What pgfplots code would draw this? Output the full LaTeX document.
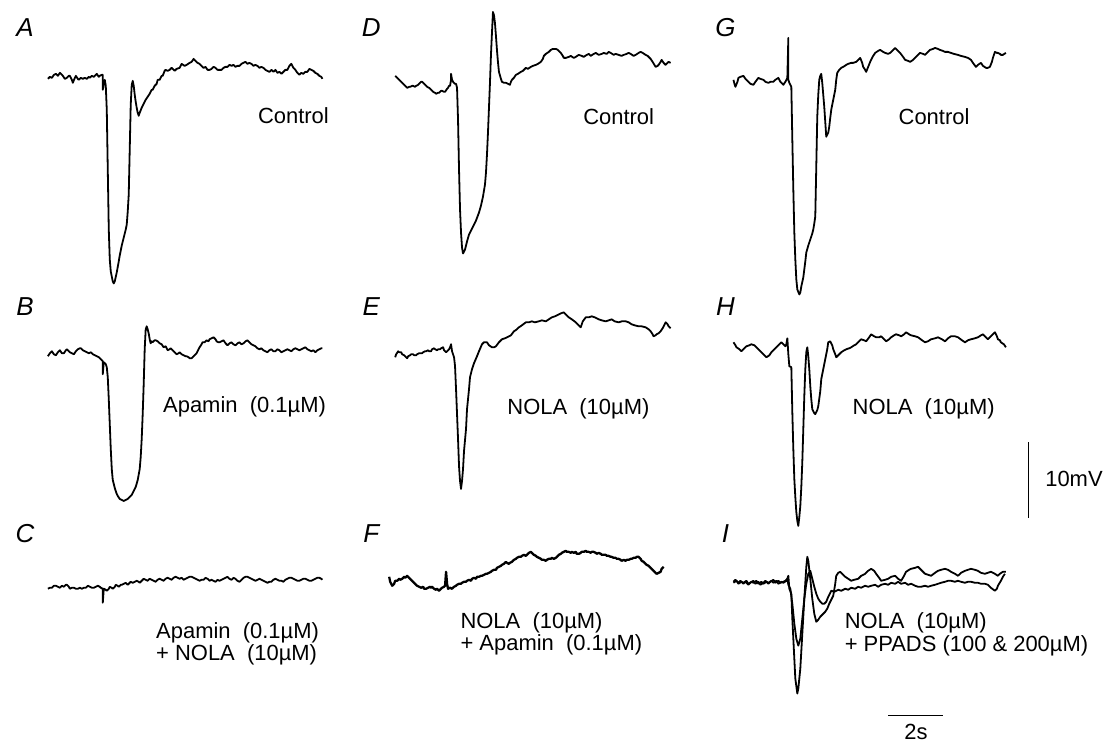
\documentclass[border=0pt]{standalone}
\usepackage{fontspec}
\setmainfont{Liberation Sans}
\usepackage{pgfplots}
\pgfplotsset{compat=1.18}
\tikzset{lab/.style={font=\fontsize{22}{24}\selectfont},
  let/.style={font=\fontsize{26}{28}\selectfont\itshape}}
\begin{document}
\begin{tikzpicture}
\begin{axis}[x=1pt,y=1pt,y dir=reverse,xmin=0,xmax=1106,ymin=0,ymax=748,hide axis,clip=false,
  every axis plot/.append style={line width=1.8pt},
  every axis plot post/.append style={black,solid,line join=round,mark=none}]
\path[draw=none] (axis cs:0,0) rectangle (axis cs:1106,748);
% Panel A
\addplot coordinates {(48,79)(50,77)(52,78)(54,75)(56,74)(58,76)(60,73)(62,75)(63,76)(65,79)(67,78)(69,76)(70,76)(72,80)(73,83)(75,78)(76,76)(78,79)(79,80)(81,78)(83,79)(85,78)(87,79)(89,77)(90,78)(92,76)(94,77)(96,75)(97,74)(99,77)(100,76)(102,75)(103,75)(103,90)(104,84)(105,80)(106,86)(107,110)(108,170)(109,230)(110,260)(111,272)(113,282)(114,284)(115,282)(117,273)(119,262)(120,256)(122,246)(124,238)(126,230)(127,225)(128,212)(129,195)(130,150)(131,105)(132,85)(133,81)(134,86)(135,95)(136,102)(137,108)(138,113)(139,116)(140,113)(142,108)(144,104)(146,100)(148,97)(150,94)(152,90)(153,90)(155,86)(157,84)(158,80)(160,80)(162,76)(163,76)(165,71)(166,70)(168,71)(170,70)(172,68)(175,71)(177,69)(180,68)(182,64)(185,66)(187,65)(190,63)(192,62)(194,59)(196,61)(198,63)(200,64)(202,66)(204,68)(206,67)(208,70)(210,70)(212,69)(214,67)(216,68)(218,70)(220,70)(222,70)(224,68)(226,67)(228,67)(230,65)(232,66)(234,65)(236,67)(238,66)(240,66)(242,64)(244,63)(246,62)(248,64)(250,63)(252,64)(254,66)(256,65)(258,66)(260,68)(262,67)(264,68)(266,70)(268,71)(270,72)(272,70)(274,72)(276,70)(278,73)(280,72)(282,74)(284,72)(286,70)(288,70)(290,66)(292,64)(294,68)(296,70)(298,73)(300,75)(302,73)(304,74)(306,72)(308,72)(310,69)(312,70)(314,71)(316,73)(318,74)(320,76)(322,77)(323,79)};
% Panel B
\addplot coordinates {(48,357)(50,354)(52,352)(54,355)(56,356)(58,353)(60,351)(62,354)(64,354)(66,351)(67,350)(69,352)(70,353)(72,354)(74,355)(76,352)(78,350)(80,349)(81,349)(83,351)(85,352)(87,353)(89,354)(91,353)(93,355)(95,356)(97,357)(99,358)(101,360)(103,362)(103,375)(104,363)(106,365)(107,368)(108,378)(109,400)(110,425)(111,450)(112,470)(113,481)(115,489)(117,495)(118,497)(120,500)(122,501)(124,502)(126,501)(128,500)(130,498)(132,496)(134,492)(136,488)(138,481)(140,470)(141,458)(142,440)(143,415)(144,385)(145,350)(146,330)(147,327)(148,330)(149,334)(150,340)(151,344)(152,342)(153,343)(155,341)(156,341)(158,342)(160,344)(162,345)(164,348)(166,347)(168,351)(170,350)(171,349)(173,351)(174,352)(176,354)(177,355)(179,354)(180,353)(182,355)(184,356)(186,357)(187,357)(189,358)(190,359)(192,359)(193,358)(195,356)(197,354)(199,350)(200,348)(202,345)(203,343)(205,343)(207,341)(209,342)(210,340)(212,339)(214,338)(216,340)(217,342)(219,343)(220,343)(222,342)(224,341)(226,344)(228,346)(230,344)(232,343)(234,345)(236,346)(238,344)(240,343)(242,345)(244,344)(246,342)(248,341)(250,343)(252,345)(254,346)(256,347)(258,349)(260,350)(262,349)(264,351)(266,352)(268,353)(270,351)(272,350)(274,352)(276,352)(278,350)(280,351)(282,353)(284,352)(286,351)(288,350)(290,351)(292,352)(294,350)(296,349)(298,350)(300,351)(302,350)(304,349)(306,348)(308,350)(310,351)(312,352)(314,351)(316,353)(318,351)(320,350)(322,349)(323,349)};
% Panel C
\addplot coordinates {(48,590)(50,589)(52,589)(54,587)(56,587)(58,588)(60,589)(62,587)(64,588)(66,586)(67,586)(69,588)(70,590)(72,589)(74,589)(76,590)(78,590)(80,589)(82,590)(84,589)(86,589)(88,587)(90,588)(92,589)(94,589)(96,588)(98,587)(100,588)(101,589)(103,590)(103,604)(104,590)(106,591)(107,592)(109,590)(110,588)(112,589)(113,590)(115,588)(116,586)(118,587)(119,588)(121,586)(122,586)(124,585)(126,584)(128,586)(129,585)(131,583)(133,584)(135,583)(137,582)(139,583)(140,584)(142,582)(144,580)(146,581)(148,582)(150,580)(152,581)(154,582)(156,583)(158,581)(160,580)(162,581)(164,582)(166,580)(168,579)(170,580)(172,581)(174,579)(176,578)(178,579)(180,580)(182,579)(184,581)(186,580)(188,579)(190,578)(192,578)(194,579)(196,580)(198,581)(200,582)(202,581)(204,581)(206,579)(208,580)(210,582)(212,581)(214,582)(216,583)(218,581)(220,582)(222,581)(224,580)(226,579)(228,578)(230,580)(232,581)(234,579)(236,580)(238,582)(240,583)(242,581)(244,579)(246,578)(248,578)(250,579)(252,580)(254,581)(256,582)(258,581)(260,580)(262,581)(264,582)(266,583)(268,584)(270,583)(272,583)(274,581)(276,580)(278,581)(280,582)(282,582)(284,583)(286,581)(288,580)(290,579)(292,579)(294,580)(296,581)(298,582)(300,582)(302,581)(304,580)(306,580)(308,581)(310,582)(312,582)(314,581)(316,580)(318,579)(320,579)(322,580)(323,581)};
% Panel D
\addplot coordinates {(396,76)(398,78)(399,79)(401,81)(402,82)(404,84)(405,85)(407,87)(408,88)(410,87)(411,87)(413,86)(414,86)(416,87)(417,86)(419,85)(420,84)(422,82)(423,82)(424,83)(425,84)(427,86)(428,87)(430,88)(431,89)(433,91)(434,92)(436,93)(437,94)(439,93)(440,93)(442,91)(443,91)(445,92)(446,92)(448,89)(449,88)(450,86)(451,86)(452,80)(452,74)(453,80)(454,82)(456,84)(457,84)(458,88)(459,120)(460,170)(461,210)(462,233)(463,248)(464,254)(466,250)(468,242)(470,235)(472,231)(475,225)(477,221)(480,213)(482,206)(484,197)(486,185)(487,173)(488,155)(489,133)(490,108)(491,83)(492,55)(493,33)(494,12)(495,15)(496,23)(497,36)(498,50)(499,62)(500,72)(502,79)(503,82)(505,83)(507,83)(509,84)(511,85)(512,82)(513,80)(515,78)(517,75)(519,74)(522,72)(524,71)(527,68)(529,69)(532,67)(534,66)(537,65)(539,64)(542,62)(544,59)(545,56)(547,54)(550,52)(552,50)(554,49)(557,49)(559,50)(562,53)(564,56)(565,58)(567,58)(570,57)(572,56)(575,58)(577,57)(580,55)(583,56)(585,57)(588,55)(590,54)(592,56)(595,54)(597,53)(600,55)(603,54)(605,53)(608,54)(610,52)(612,53)(615,55)(617,54)(620,55)(623,56)(625,55)(628,54)(630,53)(632,54)(635,56)(637,55)(640,53)(642,52)(644,53)(647,55)(649,56)(652,59)(654,62)(657,67)(659,66)(660,65)(662,62)(663,60)(665,63)(667,65)(669,63)(670,62)(672,63)};
% Panel E
\addplot coordinates {(396,358)(397,355)(399,352)(400,353)(402,353)(403,355)(405,356)(406,357)(408,359)(409,357)(411,356)(412,355)(414,355)(415,356)(417,356)(418,355)(420,354)(421,354)(423,354)(424,353)(426,352)(427,352)(429,351)(430,352)(432,352)(433,350)(435,349)(436,350)(438,351)(439,350)(441,350)(442,349)(444,348)(445,351)(447,353)(449,351)(450,350)(451,348)(452,345)(453,352)(454,355)(455,358)(456,367)(457,390)(458,415)(459,440)(460,467)(461,482)(462,490)(463,482)(464,470)(465,452)(467,430)(468,410)(470,390)(471,378)(473,370)(475,364)(478,357)(480,352)(483,345)(485,343)(488,343)(490,346)(493,348)(495,348)(497,347)(500,343)(503,340)(506,339)(510,337)(512,336)(515,332)(518,330)(520,328)(523,326)(527,323)(530,323)(533,322)(536,323)(540,322)(543,321)(547,322)(550,320)(553,318)(556,317)(560,315)(562,314)(565,313)(567,315)(570,318)(573,320)(577,323)(579,325)(582,328)(584,322)(587,318)(590,318)(593,317)(596,318)(600,320)(603,321)(607,322)(610,321)(613,320)(616,322)(620,323)(623,322)(627,322)(630,323)(633,325)(636,326)(640,327)(643,327)(647,328)(650,330)(652,332)(654,335)(655,337)(657,336)(658,335)(660,334)(662,332)(664,329)(667,323)(669,325)(670,327)(672,329)};
% Panel F
\addplot[line width=2.3pt] coordinates {(390,578)(391,583)(393,587)(395,585)(396,582)(398,582)(400,580)(401,581)(403,580)(405,578)(406,579)(408,577)(410,579)(411,580)(413,582)(415,584)(417,586)(418,587)(420,588)(422,589)(424,588)(425,590)(427,590)(429,589)(431,588)(432,589)(433,588)(435,590)(437,591)(438,590)(440,592)(442,590)(443,589)(445,588)(446,587)(447,573)(448,585)(449,590)(451,589)(453,590)(455,588)(457,587)(458,586)(460,585)(462,585)(463,584)(465,583)(467,583)(468,582)(470,581)(472,582)(473,580)(475,579)(477,580)(478,578)(480,578)(482,577)(483,577)(485,576)(487,575)(488,575)(490,574)(492,573)(493,572)(495,571)(497,571)(498,569)(500,568)(502,567)(503,566)(505,565)(507,563)(508,564)(510,565)(511,564)(513,563)(515,561)(517,560)(518,559)(520,558)(522,558)(523,557)(525,556)(527,557)(528,556)(530,554)(532,553)(533,554)(535,556)(537,557)(538,558)(540,559)(542,560)(543,561)(545,561)(547,562)(548,561)(550,560)(552,560)(553,559)(555,560)(557,559)(558,558)(560,556)(562,555)(563,554)(565,553)(567,552)(568,553)(570,553)(572,554)(573,553)(575,554)(577,553)(578,555)(580,555)(582,554)(583,553)(585,553)(587,552)(588,553)(590,553)(592,554)(593,553)(595,553)(597,554)(598,555)(600,554)(602,555)(603,556)(605,556)(607,556)(608,557)(610,557)(612,558)(613,558)(615,559)(617,559)(618,560)(620,560)(622,561)(623,562)(625,561)(627,562)(628,561)(630,561)(632,560)(633,560)(635,559)(637,559)(638,558)(640,558)(642,560)(643,562)(645,563)(647,565)(648,566)(650,567)(652,569)(653,570)(655,572)(657,574)(658,575)(660,574)(662,573)(663,570)(665,568)};
% Panel G
\addplot coordinates {(735,80)(736,84)(737,87)(739,82)(740,78)(742,77)(745,76)(747,79)(750,82)(752,84)(755,85)(757,82)(760,78)(762,79)(765,80)(767,82)(770,83)(772,82)(775,82)(777,80)(780,78)(782,82)(785,85)(787,82)(788,80)(789,78)(790,38)(790,80)(791,83)(793,87)(794,140)(795,190)(796,233)(797,260)(798,280)(799,290)(801,295)(802,293)(803,287)(805,278)(806,270)(807,262)(808,253)(810,246)(812,240)(814,234)(815,230)(816,224)(817,217)(818,167)(819,117)(820,95)(821,80)(822,76)(823,74)(824,83)(825,95)(826,107)(827,122)(828,137)(830,133)(831,127)(832,118)(833,110)(835,100)(837,90)(838,80)(839,73)(841,70)(843,68)(845,67)(848,65)(850,64)(853,63)(855,63)(858,62)(860,60)(862,58)(864,63)(865,67)(867,70)(868,72)(870,67)(872,62)(875,56)(877,53)(880,51)(882,50)(885,52)(887,53)(890,54)(892,53)(895,50)(897,48)(900,51)(902,53)(905,57)(907,60)(910,61)(912,62)(915,60)(917,58)(920,55)(922,53)(925,54)(927,55)(930,52)(932,50)(935,49)(937,48)(940,49)(942,50)(945,51)(947,52)(950,52)(953,53)(956,54)(960,55)(963,56)(967,57)(970,58)(973,60)(975,63)(978,67)(980,65)(983,63)(985,66)(988,68)(990,68)(992,67)(994,62)(995,58)(996,55)(997,52)(999,53)(1000,53)(1002,54)(1003,55)(1005,55)(1008,53)};
% Panel H
\addplot coordinates {(735,343)(737,346)(738,348)(741,350)(743,352)(746,349)(748,347)(751,346)(753,345)(756,346)(758,348)(761,351)(763,353)(766,356)(768,358)(771,356)(773,353)(776,350)(778,348)(781,345)(783,343)(785,345)(787,347)(788,345)(789,339)(790,355)(791,367)(793,368)(794,413)(795,450)(796,480)(797,498)(798,513)(799,522)(800,527)(801,518)(802,507)(803,488)(804,463)(805,430)(806,397)(807,370)(808,353)(809,348)(810,357)(811,370)(812,387)(813,400)(814,410)(816,414)(817,415)(819,411)(820,407)(822,392)(823,380)(825,370)(827,360)(829,350)(830,343)(832,342)(834,346)(835,350)(837,355)(838,358)(841,355)(843,353)(846,351)(848,350)(851,349)(853,348)(856,346)(858,345)(861,342)(863,340)(866,341)(868,342)(871,338)(873,335)(876,337)(878,338)(881,338)(883,337)(886,340)(888,342)(891,340)(893,338)(896,336)(898,335)(901,336)(903,337)(906,335)(908,333)(911,335)(913,336)(917,337)(920,338)(924,341)(927,343)(930,342)(933,340)(937,339)(940,338)(944,340)(947,342)(950,339)(953,337)(957,337)(960,338)(964,341)(967,343)(970,341)(973,340)(977,339)(980,338)(983,336)(985,335)(988,338)(990,340)(993,337)(995,335)(996,334)(997,333)(999,337)(1000,340)(1002,341)(1003,343)(1006,345)(1008,348)};
% Panel I, trace 1
\addplot coordinates {(735,583)(737,581)(740,584)(742,582)(745,585)(747,583)(750,586)(752,584)(755,582)(757,585)(760,583)(762,586)(765,584)(767,582)(770,585)(772,583)(775,581)(777,584)(780,582)(782,584)(785,583)(787,582)(789,580)(790,577)(791,590)(793,595)(794,620)(796,660)(797,680)(799,695)(800,690)(802,670)(804,635)(806,600)(808,568)(809,558)(810,562)(812,580)(814,600)(816,615)(818,623)(820,621)(822,618)(824,616)(827,613)(829,610)(831,605)(833,601)(835,597)(837,585)(838,577)(840,574)(842,573)(844,575)(847,578)(850,580)(853,582)(856,581)(860,580)(863,577)(867,575)(870,572)(873,570)(876,572)(878,575)(881,579)(883,582)(887,581)(890,580)(893,578)(897,577)(900,580)(903,582)(906,577)(908,573)(911,571)(913,570)(917,569)(920,568)(923,571)(927,575)(930,576)(933,577)(937,574)(940,572)(943,571)(947,570)(950,571)(953,573)(957,575)(960,577)(963,574)(967,572)(970,571)(973,570)(977,571)(980,572)(983,574)(987,575)(990,574)(993,573)(997,575)(1000,577)(1002,575)(1005,573)(1008,573)};
% Panel I, trace 2
\addplot coordinates {(735,584)(738,582)(740,585)(743,583)(745,584)(748,582)(750,585)(753,583)(755,584)(758,582)(760,585)(763,583)(765,585)(768,583)(770,584)(773,582)(775,584)(778,582)(780,585)(783,583)(785,584)(788,582)(789,580)(790,586)(792,590)(794,605)(796,625)(798,640)(800,647)(802,640)(804,620)(806,600)(808,585)(810,575)(812,572)(814,580)(816,588)(818,595)(820,600)(822,603)(824,605)(826,605)(828,603)(830,598)(833,592)(836,593)(840,591)(843,592)(847,590)(850,591)(853,589)(857,590)(860,588)(863,589)(867,587)(870,588)(873,587)(877,586)(880,588)(883,586)(887,585)(890,586)(893,584)(897,585)(900,583)(903,585)(907,584)(910,586)(913,585)(917,587)(920,588)(923,588)(927,587)(930,588)(933,587)(937,586)(940,585)(943,584)(947,583)(950,582)(953,582)(957,583)(960,582)(963,583)(967,584)(970,583)(973,583)(977,584)(980,584)(983,585)(987,585)(990,586)(993,589)(997,592)(999,590)(1000,587)(1003,582)(1005,578)(1007,575)};
% scale bars
\addplot[line width=1.3pt] coordinates {(1031,443)(1031,519)};
\addplot[line width=1.3pt] coordinates {(890,717)(945,717)};
% texts
\node[lab,anchor=west] at (axis cs:1044,480) {10mV};
\node[lab] at (axis cs:918,733) {2s};
\node[let] at (axis cs:25,28) {A};
\node[let] at (axis cs:25,307) {B};
\node[let] at (axis cs:25,535) {C};
\node[let] at (axis cs:372,28) {D};
\node[let] at (axis cs:372,307) {E};
\node[let] at (axis cs:372,535) {F};
\node[let] at (axis cs:727,28) {G};
\node[let] at (axis cs:727,307) {H};
\node[let] at (axis cs:727,535) {I};
\node[lab,anchor=east] at (axis cs:333,116) {Control};
\node[lab,anchor=east] at (axis cs:659,117) {Control};
\node[lab,anchor=east] at (axis cs:975,117) {Control};
\node[lab,anchor=west] at (axis cs:160,408) {Apamin\ \ (0.1µM)};
\node[lab,anchor=west] at (axis cs:505,410) {NOLA\ \ (10µM)};
\node[lab,anchor=west] at (axis cs:851,410) {NOLA\ \ (10µM)};
\node[lab,anchor=west] at (axis cs:153,634) {Apamin\ \ (0.1µM)};
\node[lab,anchor=west] at (axis cs:153,656) {+ NOLA\ \ (10µM)};
\node[lab,anchor=west] at (axis cs:458,624) {NOLA\ \ (10µM)};
\node[lab,anchor=west] at (axis cs:458,646) {+ Apamin\ \ (0.1µM)};
\node[lab,anchor=west] at (axis cs:843,624) {NOLA\ \ (10µM)};
\node[lab,anchor=west] at (axis cs:843,647) {+ PPADS (100 \& 200µM)};
\end{axis}
\end{tikzpicture}
\end{document}
